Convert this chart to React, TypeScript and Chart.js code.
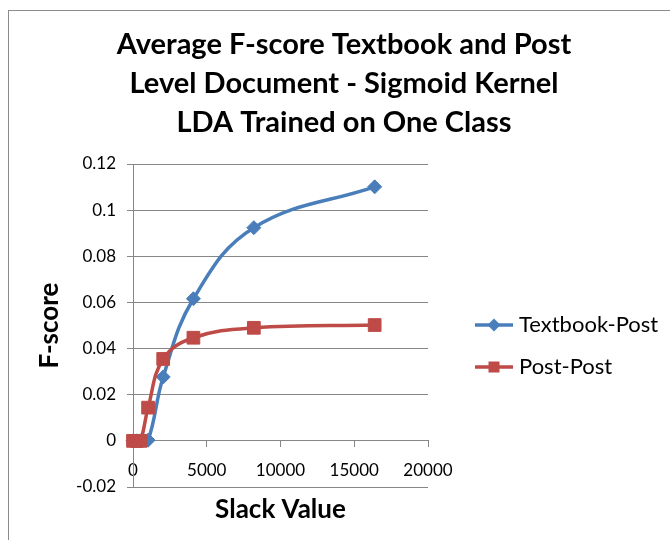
import React, { useEffect, useRef } from 'react';
import { Chart, registerables } from 'chart.js';

Chart.register(...registerables);

// ---- data ----
const slackValues = [1, 256, 512, 1024, 2048, 4096, 8192, 16384];
const textbookPost = [0, 0, 0, 0.0003, 0.0277, 0.0616, 0.0924, 0.1101];
const postPost = [0, 0, 0, 0.0144, 0.0355, 0.0447, 0.049, 0.0502];
const seriesNames = ['Textbook-Post', 'Post-Post'];
const titleLines = [
  'Average F-score Textbook and Post',
  'Level Document - Sigmoid Kernel',
  'LDA Trained on One Class',
];
const xTicks = [0, 5000, 10000, 15000, 20000];
const yTicks = [-0.02, 0, 0.02, 0.04, 0.06, 0.08, 0.1, 0.12];
const xAxisTitle = 'Slack Value';
const yAxisTitle = 'F-score';

const FAMILY = "Lato, 'DejaVu Sans', sans-serif";
const BLUE = '#4A7EBB';
const RED = '#BE4B48';
const GRID = '#878787';

function makeIcon(color: string, style: 'diamond' | 'square'): HTMLCanvasElement {
  const c = document.createElement('canvas');
  c.width = 38;
  c.height = 16;
  const g = c.getContext('2d')!;
  g.strokeStyle = color;
  g.lineWidth = 3.5;
  g.beginPath();
  g.moveTo(0, 8);
  g.lineTo(38, 8);
  g.stroke();
  g.fillStyle = color;
  if (style === 'diamond') {
    g.beginPath();
    g.moveTo(19, 1.5);
    g.lineTo(25.5, 8);
    g.lineTo(19, 14.5);
    g.lineTo(12.5, 8);
    g.closePath();
    g.fill();
  } else {
    g.fillRect(13.5, 2.5, 11, 11);
  }
  return c;
}

// keeps the right-hand legend box at a fixed width
const legendWidthPlugin = {
  id: 'legendWidth',
  beforeLayout(chart: any) {
    const lg = chart.legend;
    if (lg && !lg.__fixedWidth) {
      const orig = lg.fit.bind(lg);
      lg.fit = function () {
        orig();
        this.width = 210;
      };
      lg.__fixedWidth = true;
    }
  },
};

export default function App() {
  const ref = useRef<HTMLCanvasElement | null>(null);

  useEffect(() => {
    if (!ref.current) return;
    const icons = [makeIcon(BLUE, 'diamond'), makeIcon(RED, 'square')];
    const colors = [BLUE, RED];

    const chart = new Chart(ref.current, {
      type: 'line',
      plugins: [legendWidthPlugin],
      data: {
        datasets: [
          {
            label: seriesNames[0],
            data: slackValues.map((x, i) => ({ x, y: textbookPost[i] })),
            borderColor: BLUE,
            backgroundColor: BLUE,
            pointBackgroundColor: BLUE,
            pointBorderColor: BLUE,
            borderWidth: 3.5,
            pointStyle: 'rectRot',
            pointRadius: 7,
            pointBorderWidth: 1,
            tension: 0.4,
            fill: false,
            clip: false,
            order: 1,
          },
          {
            label: seriesNames[1],
            data: slackValues.map((x, i) => ({ x, y: postPost[i] })),
            borderColor: RED,
            backgroundColor: RED,
            pointBackgroundColor: RED,
            pointBorderColor: RED,
            borderWidth: 3.5,
            pointStyle: 'rect',
            pointRadius: 9,
            pointBorderWidth: 1,
            tension: 0.4,
            fill: false,
            clip: false,
            order: 0,
          },
        ],
      },
      options: {
        responsive: false,
        animation: false,
        layout: { padding: { left: 18, right: 0, top: 0, bottom: 53 } },
        scales: {
          x: {
            type: 'linear',
            position: { y: 0 } as any,
            min: 0,
            max: 20000,
            afterBuildTicks: (s: any) => {
              s.ticks = xTicks.map((v) => ({ value: v }));
            },
            ticks: {
              callback: (v: any) => String(v),
              font: { family: FAMILY, size: 17 },
              color: '#000',
              padding: 13,
              maxRotation: 0,
              autoSkip: false,
            },
            grid: { drawOnChartArea: false, drawTicks: true, tickLength: 6, color: GRID },
            border: { display: true, color: GRID, width: 1 },
            title: {
              display: true,
              text: xAxisTitle,
              color: '#000',
              font: { family: FAMILY, size: 26, weight: 'bold' },
              padding: { top: 1, bottom: 0 },
            },
          },
          y: {
            type: 'linear',
            position: 'left',
            min: -0.02,
            max: 0.12,
            afterBuildTicks: (s: any) => {
              s.ticks = yTicks.map((v) => ({ value: v }));
            },
            afterFit: (s: any) => {
              s.width = 115;
            },
            ticks: {
              callback: (v: any) => String(Math.round(Number(v) * 1000) / 1000),
              font: { family: FAMILY, size: 17 },
              color: '#000',
              padding: 11,
            },
            grid: { color: GRID, tickLength: 6, drawTicks: true },
            border: { display: true, color: GRID, width: 1 },
            title: {
              display: true,
              text: yAxisTitle,
              color: '#000',
              font: { family: FAMILY, size: 26, weight: 'bold' },
              padding: { top: 16, bottom: 0 },
            },
          },
          y2: {
            type: 'linear',
            position: 'right',
            grid: { display: false },
            border: { display: false },
            ticks: { display: false },
            afterFit: (s: any) => {
              s.width = 32;
            },
          },
        },
        plugins: {
          title: {
            display: true,
            text: titleLines,
            color: '#000',
            font: { family: FAMILY, size: 29, weight: 'bold', lineHeight: 39 / 29 },
            padding: { top: 25.5, bottom: 21.5 },
          },
          legend: {
            position: 'right',
            align: 'center',
            fullSize: false,
            maxWidth: 260,
            title: {
              display: true,
              text: ' ',
              font: { size: 10 },
              padding: { top: 29, bottom: 0 },
            },
            labels: {
              usePointStyle: true,
              pointStyleWidth: 28,
              padding: 20,
              color: '#000',
              font: { family: FAMILY, size: 22 },
              generateLabels: (ch: any) =>
                ch.data.datasets.map((ds: any, i: number) => ({
                  text: ds.label,
                  fillStyle: colors[i],
                  strokeStyle: colors[i],
                  lineWidth: 0,
                  hidden: false,
                  datasetIndex: i,
                  pointStyle: icons[i],
                  fontColor: '#000',
                })),
            },
          },
          tooltip: { enabled: false },
        },
      },
    } as any);

    return () => chart.destroy();
  }, []);

  return (
    <div
      style={{
        position: 'fixed',
        left: 0,
        top: 0,
        width: 670,
        height: 540,
        overflow: 'hidden',
        background: '#fff',
      }}
    >
      <div
        style={{
          position: 'absolute',
          left: 8,
          top: 10,
          right: 0,
          bottom: 0,
          borderTop: '1px solid #8c8c8c',
          borderLeft: '1px solid #8c8c8c',
        }}
      />
      <canvas
        ref={ref}
        width={670}
        height={540}
        style={{ position: 'absolute', left: 0, top: 0, display: 'block' }}
      />
    </div>
  );
}
